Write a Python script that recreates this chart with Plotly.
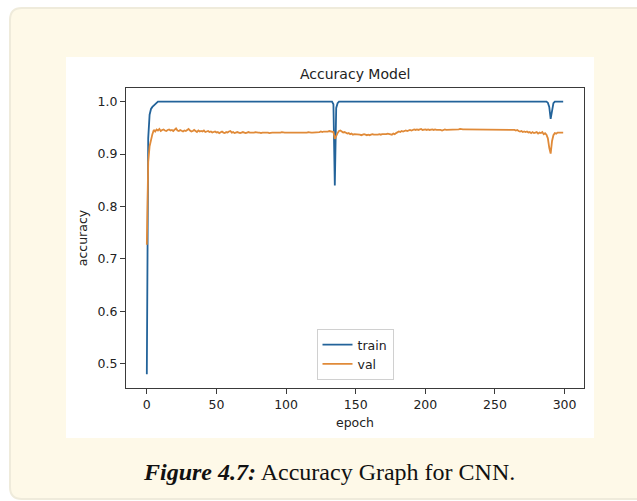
import plotly.graph_objects as go

epochs = list(range(300))

train_acc = [
    0.480, 0.930, 0.975, 0.986, 0.990, 0.993, 0.995, 0.998, 1.000, 1.000,
    1.000, 1.000, 1.000, 1.000, 1.000, 1.000, 1.000, 1.000, 1.000, 1.000,
    1.000, 1.000, 1.000, 1.000, 1.000, 1.000, 1.000, 1.000, 1.000, 1.000,
    1.000, 1.000, 1.000, 1.000, 1.000, 1.000, 1.000, 1.000, 1.000, 1.000,
    1.000, 1.000, 1.000, 1.000, 1.000, 1.000, 1.000, 1.000, 1.000, 1.000,
    1.000, 1.000, 1.000, 1.000, 1.000, 1.000, 1.000, 1.000, 1.000, 1.000,
    1.000, 1.000, 1.000, 1.000, 1.000, 1.000, 1.000, 1.000, 1.000, 1.000,
    1.000, 1.000, 1.000, 1.000, 1.000, 1.000, 1.000, 1.000, 1.000, 1.000,
    1.000, 1.000, 1.000, 1.000, 1.000, 1.000, 1.000, 1.000, 1.000, 1.000,
    1.000, 1.000, 1.000, 1.000, 1.000, 1.000, 1.000, 1.000, 1.000, 1.000,
    1.000, 1.000, 1.000, 1.000, 1.000, 1.000, 1.000, 1.000, 1.000, 1.000,
    1.000, 1.000, 1.000, 1.000, 1.000, 1.000, 1.000, 1.000, 1.000, 1.000,
    1.000, 1.000, 1.000, 1.000, 1.000, 1.000, 1.000, 1.000, 1.000, 1.000,
    1.000, 1.000, 1.000, 1.000, 0.995, 0.840, 0.988, 0.997, 1.000, 1.000,
    1.000, 1.000, 1.000, 1.000, 1.000, 1.000, 1.000, 1.000, 1.000, 1.000,
    1.000, 1.000, 1.000, 1.000, 1.000, 1.000, 1.000, 1.000, 1.000, 1.000,
    1.000, 1.000, 1.000, 1.000, 1.000, 1.000, 1.000, 1.000, 1.000, 1.000,
    1.000, 1.000, 1.000, 1.000, 1.000, 1.000, 1.000, 1.000, 1.000, 1.000,
    1.000, 1.000, 1.000, 1.000, 1.000, 1.000, 1.000, 1.000, 1.000, 1.000,
    1.000, 1.000, 1.000, 1.000, 1.000, 1.000, 1.000, 1.000, 1.000, 1.000,
    1.000, 1.000, 1.000, 1.000, 1.000, 1.000, 1.000, 1.000, 1.000, 1.000,
    1.000, 1.000, 1.000, 1.000, 1.000, 1.000, 1.000, 1.000, 1.000, 1.000,
    1.000, 1.000, 1.000, 1.000, 1.000, 1.000, 1.000, 1.000, 1.000, 1.000,
    1.000, 1.000, 1.000, 1.000, 1.000, 1.000, 1.000, 1.000, 1.000, 1.000,
    1.000, 1.000, 1.000, 1.000, 1.000, 1.000, 1.000, 1.000, 1.000, 1.000,
    1.000, 1.000, 1.000, 1.000, 1.000, 1.000, 1.000, 1.000, 1.000, 1.000,
    1.000, 1.000, 1.000, 1.000, 1.000, 1.000, 1.000, 1.000, 1.000, 1.000,
    1.000, 1.000, 1.000, 1.000, 1.000, 1.000, 1.000, 1.000, 1.000, 1.000,
    1.000, 1.000, 1.000, 1.000, 1.000, 1.000, 1.000, 1.000, 0.998, 0.990,
    0.967, 0.985, 0.997, 1.000, 1.000, 1.000, 1.000, 1.000, 1.000, 1.000,
]

val_acc = [
    0.727, 0.885, 0.915, 0.930, 0.938, 0.946, 0.943, 0.947, 0.945, 0.948,
    0.944, 0.946, 0.947, 0.945, 0.944, 0.946, 0.947, 0.945, 0.946, 0.944,
    0.946, 0.949, 0.945, 0.944, 0.946, 0.945, 0.943, 0.945, 0.944, 0.946,
    0.948, 0.945, 0.943, 0.944, 0.946, 0.944, 0.942, 0.945, 0.943, 0.944,
    0.943, 0.945, 0.942, 0.943, 0.944, 0.942, 0.943, 0.941, 0.942, 0.943,
    0.941, 0.942, 0.940, 0.941, 0.943, 0.941, 0.940, 0.942, 0.941, 0.943,
    0.944, 0.941, 0.942, 0.940, 0.941, 0.942, 0.941, 0.940, 0.941, 0.942,
    0.941, 0.940, 0.941, 0.942, 0.941, 0.941, 0.940, 0.941, 0.942, 0.941,
    0.941, 0.941, 0.940, 0.941, 0.941, 0.942, 0.941, 0.941, 0.940, 0.941,
    0.941, 0.941, 0.941, 0.940, 0.941, 0.941, 0.941, 0.942, 0.941, 0.941,
    0.941, 0.941, 0.940, 0.941, 0.941, 0.941, 0.941, 0.941, 0.941, 0.941,
    0.941, 0.941, 0.941, 0.941, 0.941, 0.941, 0.942, 0.941, 0.941, 0.941,
    0.941, 0.942, 0.942, 0.941, 0.942, 0.943, 0.942, 0.943, 0.943, 0.942,
    0.943, 0.944, 0.943, 0.943, 0.942, 0.929, 0.936, 0.940, 0.944, 0.945,
    0.943, 0.941, 0.942, 0.940, 0.939, 0.940, 0.938, 0.939, 0.937, 0.938,
    0.938, 0.937, 0.938, 0.937, 0.936, 0.937, 0.938, 0.937, 0.936, 0.937,
    0.936, 0.937, 0.938, 0.937, 0.937, 0.936, 0.937, 0.938, 0.937, 0.938,
    0.938, 0.937, 0.938, 0.939, 0.938, 0.938, 0.937, 0.939, 0.938, 0.940,
    0.942, 0.943, 0.942, 0.944, 0.943, 0.944, 0.945, 0.944, 0.945, 0.946,
    0.945, 0.946, 0.947, 0.946, 0.947, 0.946, 0.947, 0.948, 0.946, 0.947,
    0.947, 0.946, 0.947, 0.946, 0.947, 0.947, 0.946, 0.947, 0.946, 0.946,
    0.947, 0.946, 0.945, 0.946, 0.947, 0.946, 0.946, 0.947, 0.946, 0.946,
    0.947, 0.947, 0.946, 0.947, 0.947, 0.948, 0.947, 0.947, 0.947, 0.947,
    0.947, 0.947, 0.947, 0.947, 0.947, 0.947, 0.947, 0.947, 0.947, 0.947,
    0.947, 0.947, 0.947, 0.947, 0.947, 0.947, 0.947, 0.947, 0.947, 0.947,
    0.947, 0.947, 0.947, 0.947, 0.947, 0.947, 0.947, 0.947, 0.947, 0.947,
    0.947, 0.947, 0.946, 0.947, 0.946, 0.945, 0.946, 0.944, 0.943, 0.944,
    0.942, 0.943, 0.942, 0.943, 0.941, 0.942, 0.940, 0.942, 0.940, 0.941,
    0.942, 0.939, 0.941, 0.940, 0.942, 0.938, 0.940, 0.937, 0.930, 0.912,
    0.901, 0.925, 0.936, 0.940, 0.939, 0.941, 0.941, 0.941, 0.941, 0.941,
]

x_ticks = [0, 50, 100, 150, 200, 250, 300]
y_ticks = [0.5, 0.6, 0.7, 0.8, 0.9, 1.0]
y_tick_text = ["0.5", "0.6", "0.7", "0.8", "0.9", "1.0"]

W, H = 637, 501
L, R, T, B = 126, 584, 88, 388  # plot area in pixels


def px(x):
    return (x - L) / (R - L)


def py(y):
    return (B - y) / (B - T)


fig = go.Figure()
fig.add_trace(go.Scatter(x=epochs, y=train_acc, mode="lines", name="train",
                         line=dict(color="#23639a", width=1.8)))
fig.add_trace(go.Scatter(x=epochs, y=val_acc, mode="lines", name="val",
                         line=dict(color="#e08a38", width=1.8)))

# card background with rounded corners
cx0, cy0, cx1, cy1, rr = 10, 8, 660, 499, 12
card_path = (
    f"M {px(cx0 + rr)},{py(cy0)} L {px(cx1)},{py(cy0)} L {px(cx1)},{py(cy1)} "
    f"L {px(cx0 + rr)},{py(cy1)} Q {px(cx0)},{py(cy1)} {px(cx0)},{py(cy1 - rr)} "
    f"L {px(cx0)},{py(cy0 + rr)} Q {px(cx0)},{py(cy0)} {px(cx0 + rr)},{py(cy0)} Z"
)
shapes = [
    dict(type="path", xref="paper", yref="paper", path=card_path,
         fillcolor="#fef9e8", line=dict(color="#efebdb", width=2), layer="below"),
    dict(type="rect", xref="paper", yref="paper",
         x0=px(66), x1=px(594), y0=py(438), y1=py(57),
         fillcolor="#ffffff", line=dict(width=0), layer="below"),
]

annotations = [
    dict(text="Accuracy Model", xref="paper", yref="paper", x=0.5, y=py(74),
         xanchor="center", yanchor="middle", showarrow=False,
         font=dict(family="DejaVu Sans", size=14, color="#222222")),
    dict(text="<b><i>Figure 4.7:</i></b> Accuracy Graph for CNN.",
         xref="paper", yref="paper", x=px(329), y=py(472),
         xanchor="center", yanchor="middle", showarrow=False,
         font=dict(family="Liberation Serif", size=24, color="#111111")),
]

fig.update_layout(
    width=W, height=H,
    margin=dict(l=L, r=W - R, t=T, b=H - B),
    paper_bgcolor="#ffffff",
    plot_bgcolor="#ffffff",
    shapes=shapes,
    annotations=annotations,
    showlegend=True,
    legend=dict(x=0.5, xanchor="center", y=py(380), yanchor="bottom",
                bgcolor="#ffffff", bordercolor="#d0d0d0", borderwidth=1,
                font=dict(family="DejaVu Sans", size=12.5, color="#222222"),
                itemwidth=30, tracegroupgap=0),
    font=dict(family="DejaVu Sans", size=12, color="#222222"),
)

fig.update_xaxes(
    range=[-14.95, 313.95], tickvals=x_ticks, ticktext=[str(v) for v in x_ticks],
    showgrid=False, zeroline=False, showline=True, mirror=True,
    linecolor="#3a3a3a", linewidth=1.3, ticks="outside", ticklen=5,
    tickcolor="#3a3a3a", tickfont=dict(size=12.5, color="#222222"),
    title=dict(text="epoch", font=dict(size=12.5, color="#222222"), standoff=7),
)
fig.update_yaxes(
    range=[0.454, 1.026], tickvals=y_ticks, ticktext=y_tick_text,
    showgrid=False, zeroline=False, showline=True, mirror=True,
    linecolor="#3a3a3a", linewidth=1.3, ticks="outside", ticklen=5,
    tickcolor="#3a3a3a", tickfont=dict(size=12.5, color="#222222"),
    title=dict(text="accuracy", font=dict(size=12.5, color="#222222"), standoff=7),
)

fig.write_html("out.html")
